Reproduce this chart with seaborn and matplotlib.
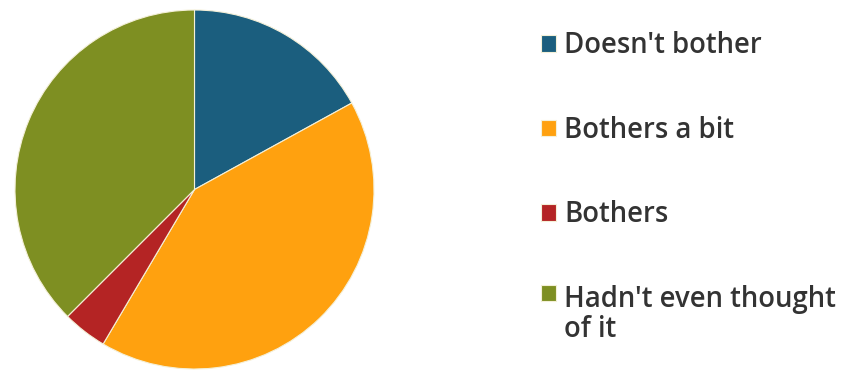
import matplotlib
matplotlib.use('Agg')
import matplotlib.pyplot as plt
import seaborn as sns

# Shares (percent), clockwise from 12 o'clock
labels = ["Doesn't bother", "Bothers a bit", "Bothers", "Hadn't even thought\nof it"]
shares = [17, 41.5, 4, 37.5]
colors = ['#1b5e7e', '#ffa10f', '#b42424', '#7e8f22']

sns.set_theme(style='white')
plt.rcParams['font.family'] = ['Open Sans', 'DejaVu Sans']

fig = plt.figure(figsize=(8.43, 3.70), dpi=100)
ax = fig.add_axes([15 / 843, 1 / 370, 359 / 843, 359 / 370])

wedges, _ = ax.pie(shares, colors=colors, startangle=90, counterclock=False,
                   wedgeprops={'edgecolor': '#f4f0d8', 'linewidth': 0.8})
ax.set_xlim(-1, 1)
ax.set_ylim(-1, 1)
ax.set_aspect('equal')

leg = fig.legend(wedges, labels, loc='upper left', bbox_to_anchor=(541 / 843, 1 - 31 / 370),
                 frameon=False, fontsize=19.8, handlelength=0.55, handleheight=0.55,
                 handletextpad=0.3, labelspacing=2.02, borderaxespad=0, borderpad=0)
for t in leg.get_texts():
    t.set_color('#333333')
    t.set_fontweight('semibold')
    t.set_linespacing(1.05)

# put the square beside the first line of the wrapped label
for col in leg._legend_handle_box.get_children():
    entries = col.get_children()
    entries[-1].align = 'top'

fig.savefig('out.png', dpi=100, facecolor='white')
